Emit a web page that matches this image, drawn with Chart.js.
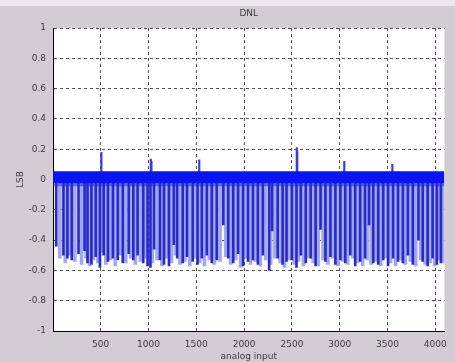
<!DOCTYPE html>
<html>
<head>
<meta charset="utf-8">
<script src="https://cdn.jsdelivr.net/npm/chart.js@4"></script>
<style>
    html, body { margin: 0; padding: 0; }
    body {
        width: 455px; height: 362px; overflow: hidden;
        background: linear-gradient(#ebe8ec 0, #ebe8ec 6px, #d4ccd4 6px);
    }
    canvas { display: block; }
</style>
</head>
<body>
<canvas id="dnl-chart" width="455" height="362"></canvas>
<script>
// Axis ticks
const xTicks = [500, 1000, 1500, 2000, 2500, 3000, 3500, 4000];
const yTicks = [-1, -0.8, -0.6, -0.4, -0.2, 0, 0.2, 0.4, 0.6, 0.8, 1];

// Code range and the dense band around zero (values at both ends of the range)
const codeRange = [1, 4096];
const bandTop = [0.055, 0.055];
const bandBottom = [-0.025, -0.025];
const bandFringe = [-0.045, -0.045];

// Positive spikes [code, DNL]
const upSpikes = [[507, 0.18], [1024, 0.135], [1031, 0.12], [1531, 0.13], [2551, 0.21], [2556, 0.19], [3048, 0.12], [3551, 0.10]];

// Strong negative spikes [code, DNL]
const darkSpikes = [
    [35, -0.44], [110, -0.50], [152, -0.52], [197, -0.53], [268, -0.49], [331, -0.47], [362, -0.55], [403, -0.56],
    [448, -0.51], [492, -0.58], [531, -0.50], [576, -0.54], [628, -0.52], [679, -0.53], [731, -0.55], [793, -0.49],
    [841, -0.53], [886, -0.50], [945, -0.55], [990, -0.57], [1020, -0.58], [1058, -0.46], [1120, -0.53], [1162, -0.56],
    [1214, -0.57], [1265, -0.43], [1300, -0.52], [1358, -0.55], [1403, -0.51], [1462, -0.54], [1513, -0.56], [1558, -0.52],
    [1610, -0.50], [1662, -0.55], [1714, -0.53], [1782, -0.30], [1834, -0.52], [1886, -0.55], [1937, -0.49], [1989, -0.57],
    [2041, -0.54], [2093, -0.53], [2144, -0.56], [2196, -0.50], [2262, -0.60], [2293, -0.34], [2351, -0.52], [2403, -0.56],
    [2444, -0.54], [2500, -0.53], [2548, -0.58], [2593, -0.50], [2645, -0.55], [2696, -0.52], [2748, -0.57], [2800, -0.33],
    [2851, -0.54], [2903, -0.51], [2955, -0.56], [3007, -0.53], [3058, -0.55], [3110, -0.50], [3162, -0.57], [3214, -0.54],
    [3265, -0.52], [3307, -0.30], [3351, -0.55], [3403, -0.56], [3455, -0.53], [3506, -0.57], [3558, -0.52], [3610, -0.54],
    [3661, -0.55], [3713, -0.50], [3765, -0.56], [3824, -0.40], [3868, -0.54], [3920, -0.57], [3972, -0.52], [4016, -0.56],
    [4058, -0.55]
];

// Fainter negative spikes between the strong ones [code, DNL]
const lightSpikes = [
    [72, -0.52], [130, -0.55], [175, -0.50], [230, -0.54], [300, -0.56], [347, -0.52], [383, -0.57], [425, -0.53],
    [470, -0.55], [512, -0.48], [553, -0.56], [602, -0.53], [652, -0.57], [705, -0.50], [762, -0.55], [815, -0.52],
    [863, -0.56], [915, -0.54], [968, -0.52], [1040, -0.55], [1090, -0.53], [1140, -0.57], [1188, -0.52], [1240, -0.55],
    [1283, -0.50], [1330, -0.56], [1380, -0.54], [1432, -0.57], [1488, -0.52], [1535, -0.55], [1585, -0.57], [1636, -0.53],
    [1688, -0.56], [1748, -0.54], [1808, -0.51], [1860, -0.56], [1912, -0.53], [1963, -0.58], [2015, -0.52], [2067, -0.56],
    [2118, -0.54], [2170, -0.57], [2225, -0.53], [2278, -0.56], [2322, -0.52], [2377, -0.55], [2424, -0.58], [2472, -0.53],
    [2524, -0.56], [2570, -0.54], [2620, -0.57], [2670, -0.52], [2722, -0.55], [2774, -0.57], [2826, -0.53], [2877, -0.56],
    [2929, -0.52], [2981, -0.57], [3033, -0.54], [3084, -0.56], [3136, -0.52], [3188, -0.55], [3240, -0.57], [3286, -0.53],
    [3329, -0.56], [3377, -0.54], [3429, -0.57], [3480, -0.52], [3532, -0.55], [3584, -0.57], [3635, -0.53], [3687, -0.56],
    [3739, -0.54], [3795, -0.57], [3846, -0.53], [3894, -0.56], [3946, -0.55], [3994, -0.57], [4037, -0.53], [4078, -0.55]
];

const textColor = '#3c3c3c';
const gridColor = '#555555';
const font = { family: 'DejaVu Sans', size: 9, weight: 'normal' };

// white plot area like MATLAB axes
const plotBackground = {
    id: 'plotBackground',
    beforeDraw(chart) {
        const { ctx, chartArea: a } = chart;
        ctx.save();
        ctx.fillStyle = '#ffffff';
        ctx.fillRect(a.left, a.top, a.right - a.left, a.bottom - a.top);
        ctx.restore();
    }
};

const spikeBase = bandBottom[0] + 0.005;

new Chart(document.getElementById('dnl-chart'), {
    type: 'bar',
    data: {
        datasets: [
            {
                type: 'line',
                data: codeRange.map((c, i) => ({ x: c, y: bandTop[i] })),
                borderWidth: 0,
                pointRadius: 0,
                fill: '+1',
                backgroundColor: '#0a14f0',
                order: 0
            },
            {
                type: 'line',
                data: codeRange.map((c, i) => ({ x: c, y: bandBottom[i] })),
                borderWidth: 0,
                pointRadius: 0,
                fill: '+1',
                backgroundColor: 'rgba(30,40,225,0.55)',
                order: 1
            },
            {
                type: 'line',
                data: codeRange.map((c, i) => ({ x: c, y: bandFringe[i] })),
                borderWidth: 0,
                pointRadius: 0,
                fill: false,
                order: 2
            },
            {
                data: upSpikes.map(s => ({ x: s[0], y: [bandTop[0] - 0.005, s[1]] })),
                backgroundColor: '#3a3ae0',
                barThickness: 1.5,
                grouped: false,
                order: 3
            },
            {
                data: darkSpikes.map(s => ({ x: s[0], y: [spikeBase, s[1]] })),
                backgroundColor: '#2a2ac8',
                barThickness: 2,
                grouped: false,
                order: 4
            },
            {
                data: lightSpikes.map(s => ({ x: s[0], y: [spikeBase, s[1]] })),
                backgroundColor: '#a0a9ee',
                barThickness: 3,
                grouped: false,
                order: 5
            }
        ]
    },
    options: {
        responsive: false,
        animation: false,
        events: [],
        layout: { padding: { left: 0, right: 9, top: 0, bottom: 0 } },
        scales: {
            x: {
                type: 'linear',
                min: codeRange[0],
                max: codeRange[1],
                offset: false,
                z: 1,
                afterBuildTicks: scale => { scale.ticks = xTicks.map(v => ({ value: v })); },
                afterFit: scale => { scale.height = 31; },
                grid: { color: gridColor, lineWidth: 1, drawTicks: false, offset: false },
                border: { color: '#000000', width: 1, dash: [3, 3] },
                ticks: {
                    color: textColor, font: font, padding: 8, maxRotation: 0, autoSkip: false,
                    callback: v => String(v)
                },
                title: { display: true, text: 'analog input', color: textColor, font: font, padding: { top: 0, bottom: 0 } }
            },
            y: {
                type: 'linear',
                min: -1,
                max: 1,
                z: 1,
                afterBuildTicks: scale => { scale.ticks = yTicks.map(v => ({ value: v })); },
                afterFit: scale => { scale.width = 53; },
                grid: {
                    color: ctx => (ctx.tick && ctx.tick.value === 0) ? 'rgba(0,0,0,0)' : gridColor,
                    lineWidth: 1,
                    drawTicks: false
                },
                border: { color: '#000000', width: 1, dash: [3, 3] },
                ticks: {
                    color: textColor, font: font, padding: 7, autoSkip: false,
                    callback: v => String(Math.round(v * 10) / 10)
                },
                title: { display: true, text: 'LSB', color: textColor, font: font, padding: { top: 15.6, bottom: 0 } }
            }
        },
        plugins: {
            legend: { display: false },
            tooltip: { enabled: false },
            title: {
                display: true,
                text: 'DNL',
                color: textColor,
                font: font,
                fullSize: false,
                padding: { top: 8.5, bottom: 8.7 }
            }
        }
    },
    plugins: [plotBackground]
});
</script>
</body>
</html>
